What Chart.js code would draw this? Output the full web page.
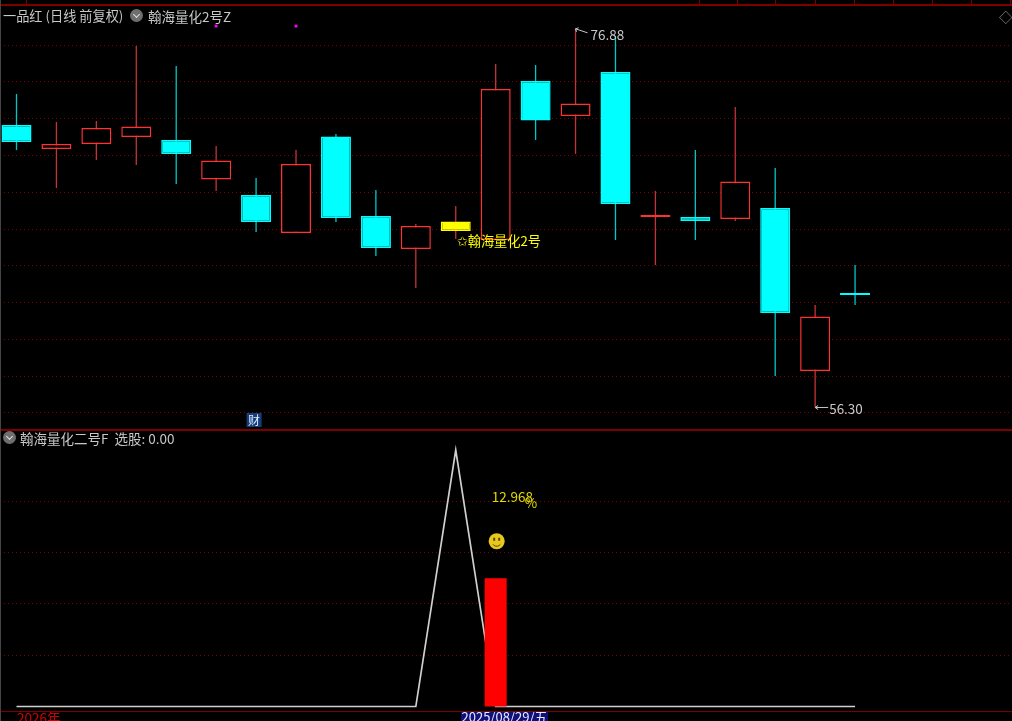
<!DOCTYPE html>
<html>
<head>
<meta charset="utf-8">
<title>一品红</title>
<script src="https://cdn.jsdelivr.net/npm/chart.js@4"></script>
<style>
html, body { margin: 0; padding: 0; background: #000; overflow: hidden; }
body { width: 1012px; height: 721px; position: relative; font-family: "Noto Sans CJK SC", sans-serif; }
canvas { position: absolute; left: 0; }
#priceChart { top: 0; }
#signalChart { top: 430px; }
.rule { position: absolute; background: #7d0000; }
.txt { position: absolute; white-space: nowrap; font-size: 13.5px; line-height: 16px; color: #c8c8c8; }
.down { position: absolute; width: 13px; height: 13px; border-radius: 50%; background: #6e6e6e; }
.down:after { content: ""; position: absolute; left: 4px; top: 2.5px; width: 4px; height: 4px;
  border: solid #e0e0e0; border-width: 0 1.5px 1.5px 0; transform: rotate(45deg); }
#clip { position: absolute; left: 0; top: 712px; width: 1012px; height: 9px; overflow: hidden; }
</style>
</head>
<body>
<canvas id="priceChart" width="1012" height="430"></canvas>
<canvas id="signalChart" width="1012" height="291"></canvas>

<div class="rule" style="left:0;top:4px;width:1012px;height:2px"></div>
<div class="rule" style="left:0;top:429px;width:1012px;height:2px"></div>
<div class="rule" style="left:0;top:711px;width:1012px;height:1px"></div>
<div class="rule" style="left:0;top:0;width:1px;height:721px;background:#444"></div>
<div id="seps"></div>

<div class="txt" style="left:3px;top:8px;font-size:13.2px">一品红 (日线 前复权)</div>
<div class="down" style="left:130px;top:9px"></div>
<div class="txt" style="left:148px;top:8px">翰海量化2号Z</div>
<div class="txt" style="left:999px;top:8px;color:#888">◇</div>
<div class="down" style="left:3px;top:431px"></div>
<div class="txt" style="left:20px;top:430px">翰海量化二号F&nbsp; 选股: 0.00</div>
<div id="clip">
  <div class="txt" style="left:17px;top:-3px;color:#d00000">2026年</div>
  <div class="txt" style="left:461px;top:-3px;width:87px;text-align:center;background:#10107a;color:#e8e8ff;font-size:13px">2025/08/29/五</div>
</div>

<script>
// price pane
const days   = [0, 1, 2, 3, 4, 5, 6, 7, 8, 9, 10, 11, 12, 13, 14, 15, 16, 17, 18, 19, 20, 21];
const opens  = [71.65, 70.35, 70.62, 71.00, 70.84, 68.69, 67.85, 65.78, 71.03, 66.71, 64.91, 66.41, 65.40, 74.04, 72.14, 74.53, 66.65, 66.65, 66.54, 67.14, 58.28, 62.49];
const closes = [70.73, 70.62, 71.49, 71.57, 70.08, 69.72, 66.38, 69.53, 66.60, 64.97, 66.16, 65.89, 73.61, 71.90, 72.82, 67.36, 66.71, 66.43, 68.58, 61.43, 61.24, 62.41];
const highs  = [73.34, 71.82, 71.87, 75.95, 74.86, 70.51, 68.77, 70.29, 71.16, 68.12, 66.27, 67.25, 74.97, 74.91, 76.88, 76.49, 68.07, 70.29, 72.63, 69.32, 61.87, 64.04];
const lows   = [70.29, 68.23, 69.75, 69.48, 68.45, 68.07, 65.84, 65.78, 66.38, 64.53, 62.79, 65.46, 65.40, 70.84, 70.08, 65.40, 64.04, 65.40, 66.43, 58.01, 56.30, 61.87];
const markedDay = 11;
const topDots = [5, 7];
const topDotValue = 77.03;
const priceTicks = [56, 58, 60, 62, 64, 66, 68, 70, 72, 74, 76];

// indicator pane
const signalLine = [0, 0, 0, 0, 0, 0, 0, 0, 0, 0, 0, 100, 0, 0, 0, 0, 0, 0, 0, 0, 0, 0];
const signalBarDay = 12;
const signalBarValue = 50;
const signalTicks = [20, 40, 60, 80];

const RED = "#ff3232", CYAN = "#00ffff", YELLOW = "#ffff00";
const CJK = '"Noto Sans CJK SC", sans-serif';

// header separators of the clipped table strip
[26, 699, 737, 775, 815, 854, 893, 932, 971, 1010].forEach(x => {
    const d = document.createElement("div");
    d.className = "rule";
    d.style.cssText = `left:${x}px;top:0;width:1px;height:5px`;
    document.getElementById("seps").appendChild(d);
});

function bodyColor(i) {
    if (i === markedDay) return YELLOW;
    return closes[i] >= opens[i] ? "#000" : CYAN;
}
function edgeColor(i) {
    if (i === markedDay) return YELLOW;
    return closes[i] >= opens[i] ? RED : CYAN;
}
function wickColor(i) {
    if (i === markedDay) return "#c43434";
    return closes[i] >= opens[i] ? "#c43434" : "#00c8c8";
}

// bars turn offset on by default, that would shift the candles
const xAxis = { type: "linear", display: false, offset: false, min: -0.413, max: 24.93 };
function yAxis(min, max, list) {
    return {
        min: min, max: max,
        afterBuildTicks: s => { s.ticks = list.map(v => ({ value: v })); },
        grid: { color: "#800000", drawTicks: false },
        border: { display: false, dash: [1, 3] },
        ticks: { display: false }
    };
}

// labels that hang on a data point
const priceNotes = {
    id: "priceNotes",
    afterDatasetsDraw(chart) {
        const { ctx, scales: { x, y } } = chart;
        ctx.save();
        ctx.textBaseline = "middle";
        ctx.font = "13.5px " + CJK;
        ctx.fillStyle = "#c8c8c8";
        ctx.strokeStyle = "#c8c8c8";
        ctx.lineWidth = 1;

        let px = x.getPixelForValue(14), py = y.getPixelForValue(highs[14]);
        ctx.beginPath();
        ctx.moveTo(px, py); ctx.lineTo(px + 12, py + 4);
        ctx.moveTo(px, py); ctx.lineTo(px + 3, py - 1);
        ctx.moveTo(px, py); ctx.lineTo(px + 1, py + 3);
        ctx.stroke();
        ctx.fillText(highs[14].toFixed(2), px + 15, py + 6);

        px = x.getPixelForValue(20); py = y.getPixelForValue(lows[20]);
        ctx.beginPath();
        ctx.moveTo(px, py); ctx.lineTo(px + 13, py);
        ctx.moveTo(px, py); ctx.lineTo(px + 3, py - 2);
        ctx.moveTo(px, py); ctx.lineTo(px + 3, py + 2);
        ctx.stroke();
        ctx.fillText(lows[20].toFixed(2), px + 14, py + 1);

        ctx.fillStyle = YELLOW;
        ctx.font = "13.2px " + CJK;
        ctx.fillText("✩翰海量化2号", x.getPixelForValue(markedDay) + 1, y.getPixelForValue(lows[12]) + 1);

        px = x.getPixelForValue(6) - 2; py = y.getPixelForValue(56) + 7;
        ctx.fillStyle = "#123f7c";
        ctx.fillRect(px - 7.5, py - 7, 15, 14);
        ctx.fillStyle = "#e0e8f8";
        ctx.font = "12px " + CJK;
        ctx.textAlign = "center";
        ctx.fillText("财", px, py);
        ctx.restore();
    }
};

const signalNotes = {
    id: "signalNotes",
    afterDatasetsDraw(chart) {
        const { ctx, scales: { x, y } } = chart;
        const cx = x.getPixelForValue(signalBarDay) + 1;
        const top = y.getPixelForValue(signalBarValue);
        ctx.save();
        ctx.textBaseline = "middle";
        ctx.font = "13.5px " + CJK;
        ctx.fillStyle = "#e0d800";
        ctx.fillText("12.968", cx - 5, top - 81);
        ctx.fillText("%", cx + 28, top - 75);

        // smiley
        const sy = top - 37;
        ctx.fillStyle = "#e8c81c";
        ctx.beginPath(); ctx.arc(cx, sy, 8, 0, Math.PI * 2); ctx.fill();
        ctx.fillStyle = "#5a4a00";
        ctx.fillRect(cx - 3.5, sy - 3.5, 2, 3);
        ctx.fillRect(cx + 1.5, sy - 3.5, 2, 3);
        ctx.strokeStyle = "#5a4a00";
        ctx.lineWidth = 1;
        ctx.beginPath(); ctx.arc(cx, sy + 0.5, 4.5, 0.2 * Math.PI, 0.8 * Math.PI); ctx.stroke();
        ctx.restore();
    }
};

new Chart(document.getElementById("priceChart"), {
    data: {
        datasets: [
            {
                type: "bar", order: 3, grouped: false,
                data: days.map(i => ({ x: i, y: [lows[i], highs[i]] })),
                barThickness: 1.3, inflateAmount: 0, borderWidth: 0,
                backgroundColor: days.map(wickColor)
            },
            {
                type: "bar", order: 2, grouped: false,
                data: days.map(i => ({ x: i, y: [Math.min(opens[i], closes[i]), Math.max(opens[i], closes[i])] })),
                barThickness: 30, inflateAmount: 0, borderWidth: 1.5, borderSkipped: false,
                minBarLength: 2,
                backgroundColor: days.map(bodyColor),
                borderColor: days.map(edgeColor)
            },
            {
                type: "scatter", order: 1,
                data: topDots.map(i => ({ x: i, y: topDotValue })),
                pointStyle: "rect", pointRadius: 2, borderWidth: 0,
                backgroundColor: "#ff00ff"
            }
        ]
    },
    options: {
        responsive: false, animation: false,
        layout: { padding: 0, autoPadding: false },
        plugins: { legend: { display: false }, tooltip: { enabled: false } },
        scales: { x: xAxis, y: yAxis(55.076, 78.446, priceTicks) }
    },
    plugins: [priceNotes]
});

new Chart(document.getElementById("signalChart"), {
    data: {
        datasets: [
            {
                type: "line", order: 2,
                data: days.map(i => ({ x: i, y: signalLine[i] })),
                borderColor: "#d0d0d0", borderWidth: 1.7, pointRadius: 0, tension: 0
            },
            {
                type: "bar", order: 1,
                data: [{ x: signalBarDay, y: signalBarValue }],
                barThickness: 22, inflateAmount: 0, borderWidth: 0,
                backgroundColor: "#ff0000"
            }
        ]
    },
    options: {
        responsive: false, animation: false,
        layout: { padding: 0, autoPadding: false },
        plugins: { legend: { display: false }, tooltip: { enabled: false } },
        scales: { x: xAxis, y: yAxis(-5.65, 107.8, signalTicks) }
    },
    plugins: [signalNotes]
});
</script>
</body>
</html>
